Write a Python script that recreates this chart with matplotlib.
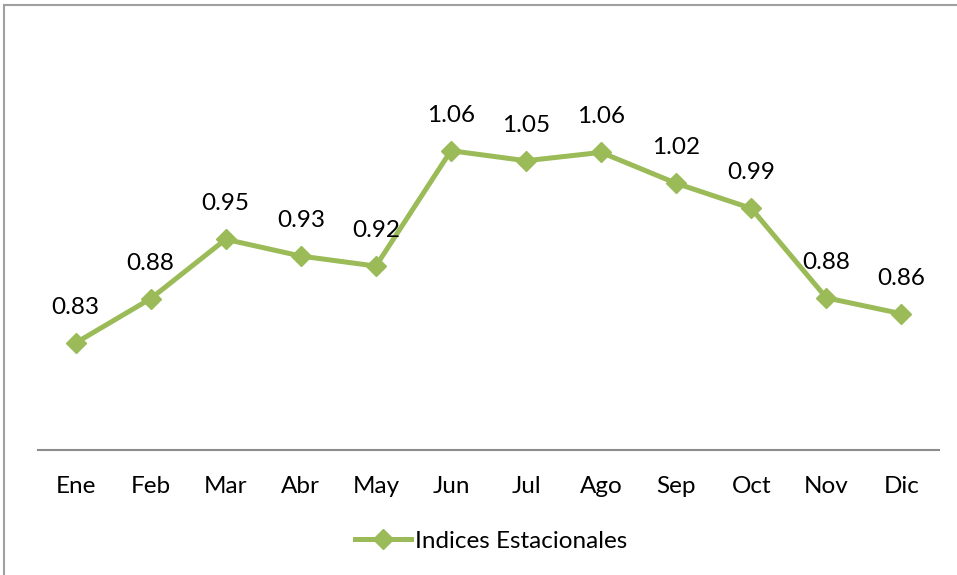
import matplotlib.pyplot as plt
from matplotlib.patches import Rectangle

plt.rcParams['font.family'] = ['Lato', 'DejaVu Sans']

meses = ["Ene", "Feb", "Mar", "Abr", "May", "Jun", "Jul", "Ago", "Sep", "Oct", "Nov", "Dic"]
indices = [0.828, 0.881, 0.952, 0.932, 0.920, 1.058, 1.046, 1.056, 1.019, 0.989, 0.882, 0.863]
serie = "Indices Estacionales"

verde = "#9BBB59"


def main():
    fig = plt.figure(figsize=(9.57, 5.75), dpi=100)
    ax = fig.add_axes([38 / 957, 125 / 575, 901 / 957, 418 / 575])

    x = list(range(len(meses)))
    ax.plot(x, indices, color=verde, linewidth=3.6, marker='D', markersize=10.5,
            markeredgecolor=verde, markerfacecolor=verde, label=serie)

    for xi, v in zip(x, indices):
        ax.annotate("%.2f" % v, (xi, v), xytext=(0, 18), textcoords='offset points',
                    ha='center', va='bottom', fontsize=17.5, color='black')

    ax.set_xlim(-0.5, len(meses) - 0.5)
    ax.set_ylim(0.7, 1.2)
    ax.set_xticks(x)
    ax.set_xticklabels(meses, fontsize=17.5)
    ax.set_yticks([])
    ax.tick_params(axis='x', length=0, pad=19)

    for s in ['top', 'right', 'left']:
        ax.spines[s].set_visible(False)
    ax.spines['bottom'].set_color('#8C8C8C')
    ax.spines['bottom'].set_linewidth(1.5)

    fig.legend(loc='center', bbox_to_anchor=(0.513, 0.059), frameon=False,
               fontsize=17.5, handlelength=2.3, handletextpad=0.15)

    # marco del grafico
    fig.patches.append(Rectangle((4 / 957, -0.1), 1.2, (575 - 5) / 575 + 0.1,
                                 transform=fig.transFigure, fill=False,
                                 edgecolor='#A0A0A0', linewidth=1.5))

    fig.savefig("out.png", dpi=100)


if __name__ == "__main__":
    main()
